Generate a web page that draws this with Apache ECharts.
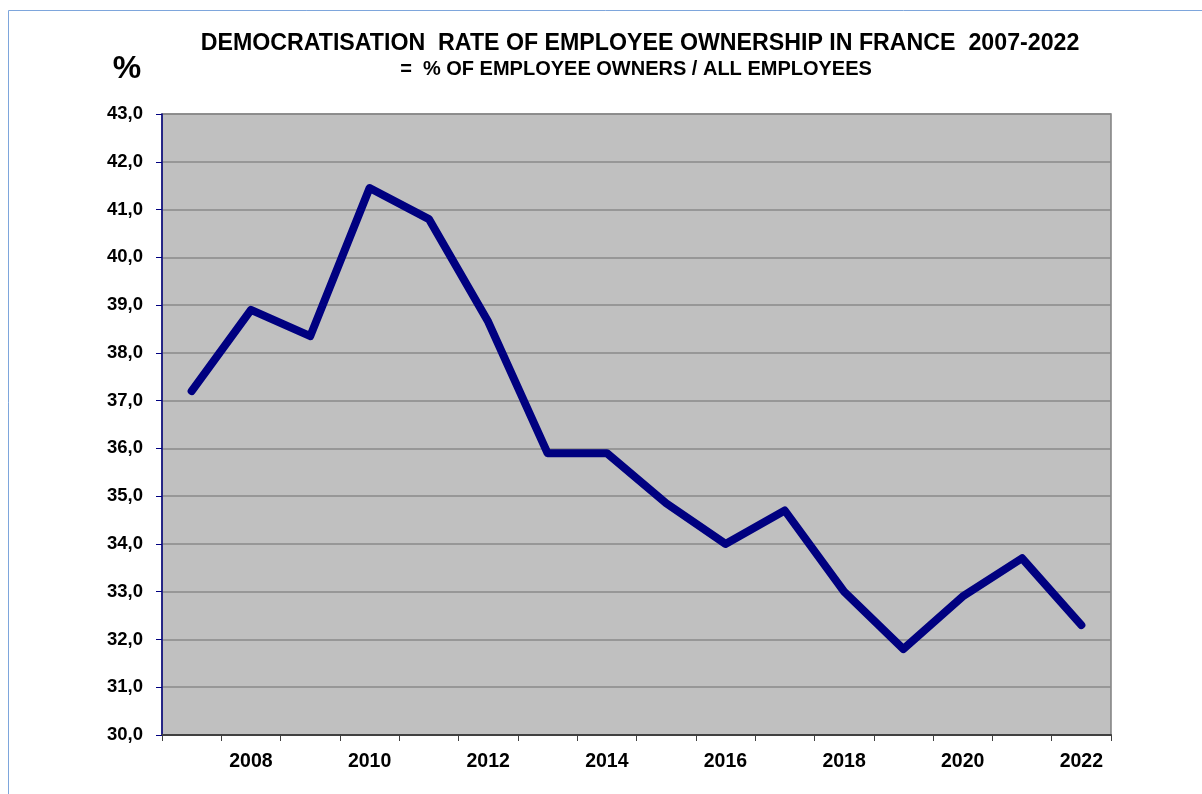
<!DOCTYPE html>
<html>
<head>
<meta charset="utf-8">
<script src="https://cdn.jsdelivr.net/npm/echarts@6/dist/echarts.min.js"></script>
<style>
html,body{margin:0;padding:0;background:#fff;}
#chart{width:1202px;height:794px;}
</style>
</head>
<body>
<div id="chart"></div>
<script>
const years = ['2007','2008','2009','2010','2011','2012','2013','2014','2015','2016','2017','2018','2019','2020','2021','2022'];
const rates = [37.2, 38.9, 38.35, 41.45, 40.8, 38.65, 35.9, 35.9, 34.85, 34.0, 34.7, 33.0, 31.8, 32.9, 33.7, 32.3];
const yMin = 30, yMax = 43, yStep = 1;
const titleText = 'DEMOCRATISATION  RATE OF EMPLOYEE OWNERSHIP IN FRANCE  2007-2022';
const subtitleText = '=  % OF EMPLOYEE OWNERS / ALL EMPLOYEES';
const unitText = '%';

const chart = echarts.init(document.getElementById('chart'), null, {renderer: 'canvas'});
const font = 'Liberation Sans, Arial, sans-serif';
chart.setOption({
  backgroundColor: '#ffffff',
  animation: false,
  graphic: [
    {type: 'polyline', shape: {points: [[8.5, 794], [8.5, 10.5], [1202, 10.5]]},
     style: {stroke: '#7ea6dc', lineWidth: 1, fill: null}, silent: true},
    {type: 'text', x: 640, y: 44, silent: true,
     style: {text: titleText, fontFamily: font, fontWeight: 'bold', fontSize: 23.2, fill: '#000',
       align: 'center', verticalAlign: 'middle'}},
    {type: 'text', x: 636, y: 69, silent: true,
     style: {text: subtitleText, fontFamily: font, fontWeight: 'bold', fontSize: 20, fill: '#000',
       align: 'center', verticalAlign: 'middle'}},
    {type: 'text', x: 127, y: 69, silent: true,
     style: {text: unitText, fontFamily: font, fontWeight: 'bold', fontSize: 32, fill: '#000',
       align: 'center', verticalAlign: 'middle'}}
  ],
  grid: {left: 162, right: 91, top: 114, bottom: 59, show: true,
    backgroundColor: '#c0c0c0', borderColor: '#808080', borderWidth: 1.5},
  xAxis: {
    type: 'category', data: years, boundaryGap: true,
    axisLine: {lineStyle: {color: '#404040', width: 2}},
    axisTick: {show: true, interval: 0, length: 6, lineStyle: {color: '#404040', width: 1}},
    axisLabel: {interval: function (i) { return i % 2 === 1; }, margin: 17,
      fontFamily: font, fontWeight: 'bold', fontSize: 19.5, color: '#000'},
    splitLine: {show: false}
  },
  yAxis: {
    type: 'value', min: yMin, max: yMax, interval: yStep,
    axisLine: {show: true, lineStyle: {color: '#000080', width: 1.5}},
    axisTick: {show: true, length: 6, lineStyle: {color: '#000080', width: 1}},
    axisLabel: {margin: 19, fontFamily: font, fontWeight: 'bold', fontSize: 18.5, color: '#000',
      formatter: v => v.toFixed(1).replace('.', ',')},
    splitLine: {show: true, lineStyle: {color: '#8a8a8a', width: 1.5}}
  },
  series: [{
    type: 'line', data: rates, symbol: 'none',
    lineStyle: {color: '#000080', width: 8, cap: 'round', join: 'round'}
  }]
});
</script>
</body>
</html>
